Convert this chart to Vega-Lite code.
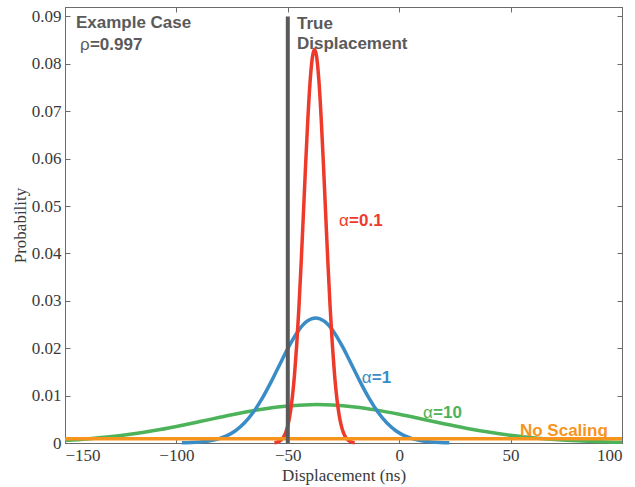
{
  "$schema": "https://vega.github.io/schema/vega-lite/v6.json",
  "autosize": {"type": "none"},
  "width": 557,
  "height": 436,
  "padding": {"left": 65, "top": 7, "right": 13, "bottom": 44},
  "background": "white",
  "view": {"stroke": "#6a6a6a", "strokeWidth": 1},
  "config": {
    "axis": {
      "domainColor": "#6a6a6a",
      "tickColor": "#6a6a6a",
      "tickSize": -5,
      "grid": false,
      "labelFont": "Liberation Serif",
      "labelFontSize": 17,
      "labelColor": "#3a3a3a",
      "titleFont": "Liberation Serif",
      "titleFontSize": 17,
      "titleFontWeight": "normal",
      "titleColor": "#3a3a3a"
    }
  },
  "datasets": {
    "green": [
      {"x": -150, "y": 0.00054}, {"x": -140, "y": 0.00086}, {"x": -130, "y": 0.0013},
      {"x": -120, "y": 0.00188}, {"x": -110, "y": 0.00262}, {"x": -100, "y": 0.0035},
      {"x": -90, "y": 0.00447}, {"x": -80, "y": 0.00548}, {"x": -70, "y": 0.00643},
      {"x": -60, "y": 0.00724}, {"x": -50, "y": 0.00782}, {"x": -40, "y": 0.00808},
      {"x": -37, "y": 0.0081}, {"x": -30, "y": 0.00802}, {"x": -20, "y": 0.00762},
      {"x": -10, "y": 0.00694}, {"x": 0, "y": 0.00606}, {"x": 10, "y": 0.00508},
      {"x": 20, "y": 0.00407}, {"x": 30, "y": 0.00313}, {"x": 40, "y": 0.00231},
      {"x": 50, "y": 0.00163}, {"x": 60, "y": 0.00111}, {"x": 70, "y": 0.00072},
      {"x": 80, "y": 0.00045}, {"x": 90, "y": 0.00027}, {"x": 100, "y": 0.00015}
    ],
    "blue": [
      {"x": -97.5, "y": 0.00004}, {"x": -93.5, "y": 0.0001}, {"x": -89.5, "y": 0.00021},
      {"x": -85.5, "y": 0.00042}, {"x": -81.5, "y": 0.00082}, {"x": -77.5, "y": 0.0015},
      {"x": -73.5, "y": 0.00259}, {"x": -69.5, "y": 0.00421}, {"x": -65.5, "y": 0.00647},
      {"x": -61.5, "y": 0.0094}, {"x": -57.5, "y": 0.01289}, {"x": -53.5, "y": 0.01668},
      {"x": -49.5, "y": 0.02039}, {"x": -45.5, "y": 0.02354}, {"x": -41.5, "y": 0.02565},
      {"x": -37.5, "y": 0.0264}, {"x": -33.5, "y": 0.02565}, {"x": -29.5, "y": 0.02354},
      {"x": -25.5, "y": 0.02039}, {"x": -21.5, "y": 0.01668}, {"x": -17.5, "y": 0.01289},
      {"x": -13.5, "y": 0.0094}, {"x": -9.5, "y": 0.00647}, {"x": -5.5, "y": 0.00421},
      {"x": -1.5, "y": 0.00259}, {"x": 2.5, "y": 0.0015}, {"x": 6.5, "y": 0.00082},
      {"x": 10.5, "y": 0.00042}, {"x": 14.5, "y": 0.00021}, {"x": 18.5, "y": 0.0001},
      {"x": 22.5, "y": 0.00004}
    ],
    "red": [
      {"x": -56, "y": 0.00007}, {"x": -55, "y": 0.00016}, {"x": -54, "y": 0.00032},
      {"x": -53, "y": 0.00063}, {"x": -52, "y": 0.00118}, {"x": -51, "y": 0.00212},
      {"x": -50, "y": 0.00365}, {"x": -49, "y": 0.00601}, {"x": -48, "y": 0.00949},
      {"x": -47, "y": 0.01433}, {"x": -46, "y": 0.02073}, {"x": -45, "y": 0.02869},
      {"x": -44, "y": 0.03804}, {"x": -43, "y": 0.04831}, {"x": -42, "y": 0.05873},
      {"x": -41, "y": 0.06836}, {"x": -40, "y": 0.07619}, {"x": -39, "y": 0.08131},
      {"x": -38, "y": 0.0831}, {"x": -37, "y": 0.08131}, {"x": -36, "y": 0.07619},
      {"x": -35, "y": 0.06836}, {"x": -34, "y": 0.05873}, {"x": -33, "y": 0.04831},
      {"x": -32, "y": 0.03804}, {"x": -31, "y": 0.02869}, {"x": -30, "y": 0.02073},
      {"x": -29, "y": 0.01433}, {"x": -28, "y": 0.00949}, {"x": -27, "y": 0.00601},
      {"x": -26, "y": 0.00365}, {"x": -25, "y": 0.00212}, {"x": -24, "y": 0.00118},
      {"x": -23, "y": 0.00063}, {"x": -22, "y": 0.00032}, {"x": -21, "y": 0.00016},
      {"x": -20, "y": 0.00007}
    ],
    "orange": [{"x": -150, "y": 0.0009}, {"x": 100, "y": 0.0009}],
    "truth": [{"x": -50, "y": 0, "y2": 0.09}],
    "boldText": [
      {"x": -145.1, "y": 0.0876, "t": "Example Case", "s": "note"},
      {"x": -45.9, "y": 0.0874, "t": "True", "s": "note"},
      {"x": -45.9, "y": 0.0831, "t": "Displacement", "s": "note"},
      {"x": 54.2, "y": 0.0015, "t": "No Scaling", "s": "none"}
    ],
    "greekText": [
      {"x": -143.3, "y": 0.0829, "t": "ρ", "s": "note"},
      {"x": -27.0, "y": 0.0458, "t": "α", "s": "a01"},
      {"x": -16.8, "y": 0.0127, "t": "α", "s": "a1"},
      {"x": 10.7, "y": 0.00527, "t": "α", "s": "a10"}
    ],
    "valueText": [
      {"x": -143.3, "y": 0.0829, "t": "=0.997", "s": "note"},
      {"x": -27.0, "y": 0.0458, "t": "=0.1", "s": "a01"},
      {"x": -16.8, "y": 0.0127, "t": "=1", "s": "a1"},
      {"x": 10.7, "y": 0.00527, "t": "=10", "s": "a10"}
    ]
  },
  "resolve": {"axis": {"x": "independent", "y": "independent"}},
  "layer": [
    {
      "data": {"name": "green"},
      "mark": {"type": "line", "color": "#4db35a", "strokeWidth": 3.5, "interpolate": "monotone"},
      "encoding": {
        "x": {"field": "x", "type": "quantitative",
              "scale": {"domain": [-150, 100], "nice": false, "zero": false},
              "axis": {"orient": "bottom", "values": [-150, -100, -50, 0, 50, 100], "format": "d",
                       "title": "Displacement (ns)", "labelPadding": 9, "titlePadding": 4}},
        "y": {"field": "y", "type": "quantitative",
              "scale": {"domain": [0, 0.092], "nice": false, "zero": true},
              "axis": {"orient": "left", "values": [0, 0.01, 0.02, 0.03, 0.04, 0.05, 0.06, 0.07, 0.08, 0.09],
                       "labelExpr": "datum.value === 0 ? '0' : format(datum.value, '.2f')",
                       "title": "Probability", "labelPadding": 9, "titlePadding": 2}}
      }
    },
    {
      "data": {"name": "blue"},
      "mark": {"type": "line", "color": "#3a8cc6", "strokeWidth": 3.5, "interpolate": "monotone"},
      "encoding": {
        "x": {"field": "x", "type": "quantitative", "axis": null},
        "y": {"field": "y", "type": "quantitative", "axis": null}
      }
    },
    {
      "data": {"name": "red"},
      "mark": {"type": "line", "color": "#ee3a2a", "strokeWidth": 3.5, "interpolate": "monotone"},
      "encoding": {
        "x": {"field": "x", "type": "quantitative", "axis": null},
        "y": {"field": "y", "type": "quantitative", "axis": null}
      }
    },
    {
      "data": {"name": "orange"},
      "mark": {"type": "line", "color": "#f7941d", "strokeWidth": 3.5},
      "encoding": {
        "x": {"field": "x", "type": "quantitative", "axis": null},
        "y": {"field": "y", "type": "quantitative", "axis": null}
      }
    },
    {
      "data": {"name": "truth"},
      "mark": {"type": "rule", "color": "#5a5a5a", "strokeWidth": 4},
      "encoding": {
        "x": {"field": "x", "type": "quantitative",
              "axis": {"orient": "top", "values": [-150, -100, -50, 0, 50, 100], "labels": false, "title": null}},
        "y": {"field": "y", "type": "quantitative",
              "axis": {"orient": "right", "values": [0, 0.01, 0.02, 0.03, 0.04, 0.05, 0.06, 0.07, 0.08, 0.09], "labels": false, "title": null}},
        "y2": {"field": "y2"}
      }
    },
    {
      "data": {"name": "boldText"},
      "mark": {"type": "text", "font": "Liberation Sans", "fontSize": 17, "fontWeight": "bold", "align": "left", "baseline": "alphabetic"},
      "encoding": {
        "x": {"field": "x", "type": "quantitative", "axis": null},
        "y": {"field": "y", "type": "quantitative", "axis": null},
        "text": {"field": "t"},
        "color": {"field": "s", "type": "nominal", "legend": null,
                  "scale": {"domain": ["note", "a01", "a1", "a10", "none"], "range": ["#5a5a5a", "#ee3a2a", "#3a8cc6", "#4db35a", "#f7941d"]}}
      }
    },
    {
      "data": {"name": "greekText"},
      "mark": {"type": "text", "font": "Liberation Sans", "fontSize": 17, "fontWeight": "normal", "align": "left", "baseline": "alphabetic"},
      "encoding": {
        "x": {"field": "x", "type": "quantitative", "axis": null},
        "y": {"field": "y", "type": "quantitative", "axis": null},
        "text": {"field": "t"},
        "color": {"field": "s", "type": "nominal", "legend": null,
                  "scale": {"domain": ["note", "a01", "a1", "a10", "none"], "range": ["#5a5a5a", "#ee3a2a", "#3a8cc6", "#4db35a", "#f7941d"]}}
      }
    },
    {
      "data": {"name": "valueText"},
      "mark": {"type": "text", "font": "Liberation Sans", "fontSize": 17, "fontWeight": "bold", "align": "left", "baseline": "alphabetic", "dx": 10},
      "encoding": {
        "x": {"field": "x", "type": "quantitative", "axis": null},
        "y": {"field": "y", "type": "quantitative", "axis": null},
        "text": {"field": "t"},
        "color": {"field": "s", "type": "nominal", "legend": null,
                  "scale": {"domain": ["note", "a01", "a1", "a10", "none"], "range": ["#5a5a5a", "#ee3a2a", "#3a8cc6", "#4db35a", "#f7941d"]}}
      }
    }
  ]
}
